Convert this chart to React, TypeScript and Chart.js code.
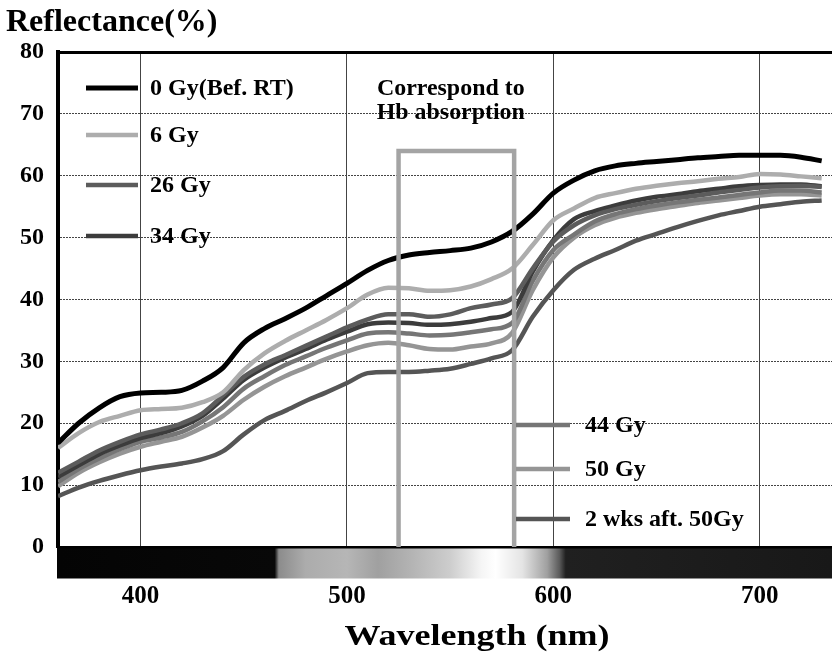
import React, { useEffect, useRef } from "react";
import { Chart, registerables } from "chart.js";

Chart.register(...registerables);

// ---------- data ----------
const wavelengths = [
  360, 370, 380, 390, 400, 410, 420, 430, 440, 450, 460, 470, 480, 490, 500, 510, 520, 530, 540,
  550, 560, 570, 580, 590, 600, 610, 620, 630, 640, 650, 660, 670, 680, 690, 700, 710, 720, 730,
];

const gy0 = [
  16.8, 20.0, 22.5, 24.3, 24.9, 25.0, 25.3, 26.8, 29.0, 33.0, 35.3, 36.9, 38.6, 40.6, 42.6, 44.7, 46.3, 47.2, 47.6,
  47.9, 48.3, 49.3, 51.0, 53.8, 57.2, 59.3, 60.8, 61.6, 62.0, 62.3, 62.6, 62.9, 63.1, 63.3, 63.3, 63.3, 63.0, 62.4,
];
const gy6 = [
  16.0, 18.4, 20.2, 21.2, 22.1, 22.3, 22.5, 23.4, 25.0, 28.6, 31.3, 33.3, 35.0, 36.7, 38.6, 40.8, 41.9, 41.8, 41.4,
  41.5, 42.1, 43.3, 45.0, 48.8, 52.8, 54.7, 56.4, 57.2, 57.9, 58.4, 58.8, 59.1, 59.5, 59.8, 60.3, 60.2, 59.9, 59.6,
];
const gy26 = [
  12.0, 13.8, 15.6, 17.0, 18.2, 19.0, 20.0, 21.6, 24.5, 27.5, 29.5, 31.0, 32.5, 34.0, 35.5, 36.8, 37.6, 37.6, 37.2,
  37.6, 38.6, 39.2, 40.2, 45.0, 49.4, 52.0, 53.6, 54.6, 55.3, 55.9, 56.4, 56.8, 57.3, 57.7, 58.1, 58.3, 58.4, 58.2,
];
const gy34 = [
  11.3, 13.2, 15.0, 16.4, 17.6, 18.4, 19.5, 21.2, 24.0, 27.0, 29.0, 30.6, 32.0, 33.5, 34.8, 36.0, 36.3, 36.2, 35.9,
  36.0, 36.4, 37.0, 38.0, 44.5, 49.6, 53.0, 54.3, 55.2, 56.0, 56.6, 57.0, 57.5, 57.9, 58.3, 58.5, 58.6, 58.6, 58.3,
];
const gy44 = [
  10.5, 12.6, 14.3, 15.8, 17.0, 17.7, 18.6, 20.3, 22.6, 25.6, 27.6, 29.4, 30.8, 32.2, 33.4, 34.5, 34.7, 34.5, 34.2,
  34.3, 34.7, 35.2, 36.2, 43.0, 48.0, 50.5, 52.6, 53.8, 54.6, 55.2, 55.7, 56.1, 56.5, 56.9, 57.3, 57.6, 57.6, 57.3,
];
const gy50 = [
  9.8, 12.0, 13.7, 15.1, 16.2, 17.0, 17.8, 19.3, 21.2, 23.8, 25.9, 27.6, 29.0, 30.4, 31.6, 32.6, 33.0, 32.6, 32.0,
  31.9, 32.4, 32.9, 34.6, 41.5, 46.8, 50.0, 52.0, 53.2, 54.0, 54.6, 55.1, 55.6, 56.0, 56.4, 56.8, 57.0, 57.0, 56.8,
];
const wks2 = [
  8.2, 9.6, 10.7, 11.6, 12.4, 13.0, 13.5, 14.2, 15.5, 18.2, 20.5, 22.0, 23.6, 25.0, 26.5, 28.1, 28.3, 28.3, 28.5,
  28.8, 29.6, 30.5, 31.8, 37.2, 41.5, 44.8, 46.6, 48.0, 49.5, 50.6, 51.7, 52.7, 53.6, 54.3, 55.0, 55.4, 55.8, 56.0,
];

const seriesNames = ["0 Gy(Bef. RT)", "6 Gy", "26 Gy", "34 Gy", "44 Gy", "50 Gy", "2 wks aft. 50Gy"];
const seriesValues = [gy0, gy6, gy26, gy34, gy44, gy50, wks2];

const xTicks = [400, 500, 600, 700];
const yTicks = [0, 10, 20, 30, 40, 50, 60, 70, 80];

const hbBoxX = [525, 525, 581, 581];
const hbBoxY = [0, 64, 64, 0];
const hbLabel = ["Correspond to", "Hb absorption"];

const yTitle = "Reflectance(%)";
const xTitle = "Wavelength (nm)";

// visible-spectrum strip (wavelength, grey level)
const spectrumWl = [360, 465, 467, 480, 500, 515, 530, 550, 565, 572, 585, 597, 603, 606, 735];
const spectrumGrey = [4, 8, 140, 172, 182, 160, 178, 205, 245, 255, 228, 160, 90, 32, 24];

// ---------- styles ----------
const FONT = "'Liberation Serif', 'Times New Roman', serif";
const colors = ["#000000", "#adadad", "#5c5c5c", "#3c3c3c", "#767676", "#959595", "#555555"];
const widths = [5, 4.5, 4.5, 4.5, 4.5, 4.5, 4.5];

function stretchText(ctx: CanvasRenderingContext2D, text: string, x: number, y: number, sx: number) {
  ctx.save();
  ctx.translate(x, y);
  ctx.scale(sx, 1);
  ctx.fillText(text, 0, 0);
  ctx.restore();
}

export default function App() {
  const ref = useRef<HTMLCanvasElement>(null);

  useEffect(() => {
    const canvas = ref.current;
    if (!canvas) return;

    const decor = {
      id: "decor",
      afterDraw(chart: any) {
        const { ctx, chartArea } = chart;
        const x = chart.scales.x;
        const y = chart.scales.y;
        ctx.save();

        // spectrum strip
        const L = chartArea.left;
        const R = chartArea.right;
        const g = ctx.createLinearGradient(L, 0, R, 0);
        spectrumWl.forEach((w, i) => {
          const p = Math.min(1, Math.max(0, (x.getPixelForValue(w) - L) / (R - L)));
          const v = spectrumGrey[i];
          g.addColorStop(p, `rgb(${v},${v},${v})`);
        });
        ctx.fillStyle = g;
        ctx.fillRect(L - 1, chartArea.bottom + 1.5, R - L + 1, 30);

        ctx.fillStyle = "#000";
        ctx.textBaseline = "middle";

        // y title
        ctx.font = `bold 32px ${FONT}`;
        ctx.textAlign = "left";
        stretchText(ctx, yTitle, 6, 23, 1.0);

        // x title
        ctx.font = `bold 30px ${FONT}`;
        ctx.textAlign = "center";
        stretchText(ctx, xTitle, 477, 637, 1.2);

        // Hb label
        ctx.font = `bold 23px ${FONT}`;
        ctx.textAlign = "center";
        const cx = x.getPixelForValue(550.3);
        stretchText(ctx, hbLabel[0], cx, y.getPixelForValue(74.0), 1.04);
        stretchText(ctx, hbLabel[1], cx, y.getPixelForValue(70.1), 1.04);

        // legend
        const legendPos = [
          { y: 88, x0: 86, x1: 138, tx: 150 },
          { y: 135, x0: 86, x1: 138, tx: 150 },
          { y: 185, x0: 86, x1: 138, tx: 150 },
          { y: 236, x0: 86, x1: 138, tx: 150 },
          { y: 425, x0: 516, x1: 570, tx: 585 },
          { y: 469, x0: 516, x1: 570, tx: 585 },
          { y: 519, x0: 516, x1: 570, tx: 585 },
        ];
        ctx.font = `bold 24px ${FONT}`;
        ctx.textAlign = "left";
        legendPos.forEach((p, i) => {
          ctx.strokeStyle = colors[i];
          ctx.lineWidth = i === 0 ? 5 : 4.5;
          ctx.beginPath();
          ctx.moveTo(p.x0, p.y);
          ctx.lineTo(p.x1, p.y);
          ctx.stroke();
          ctx.fillStyle = "#000";
          stretchText(ctx, seriesNames[i], p.tx, p.y + 1, 1.0);
        });
        ctx.restore();
      },
    };

    const datasets: any[] = [
      {
        label: "Hb box",
        data: hbBoxX.map((v, i) => ({ x: v, y: hbBoxY[i] })),
        borderColor: "#a4a4a4",
        borderWidth: 4.5,
        pointRadius: 0,
        tension: 0,
        fill: false,
        order: 0,
        clip: false,
      },
      ...seriesValues.map((vals, i) => ({
        label: seriesNames[i],
        data: wavelengths.map((w, j) => ({ x: w, y: vals[j] })),
        borderColor: colors[i],
        borderWidth: widths[i],
        pointRadius: 0,
        cubicInterpolationMode: "monotone",
        fill: false,
        order: i === 0 ? 1 : i + 2,
      })),
    ];

    const chart = new Chart(canvas, {
      type: "line",
      data: { datasets },
      options: {
        responsive: false,
        animation: false,
        layout: { padding: { top: 52, left: 0, right: 0, bottom: 0 } },
        plugins: { legend: { display: false }, tooltip: { enabled: false } },
        scales: {
          x: {
            type: "linear",
            min: 360,
            max: 735,
            afterBuildTicks: (s: any) => {
              s.ticks = xTicks.map((v) => ({ value: v }));
            },
            afterFit: (s: any) => {
              s.height = 108;
            },
            grid: { color: "#444", lineWidth: 1, drawTicks: false },
            border: { display: true, color: "#000", width: 3 },
            ticks: {
              color: "#000",
              font: { family: FONT, size: 25, weight: "bold" },
              padding: 35,
              maxRotation: 0,
            },
            title: { display: false },
          },
          y: {
            type: "linear",
            min: 0,
            max: 80,
            afterBuildTicks: (s: any) => {
              s.ticks = yTicks.map((v) => ({ value: v }));
            },
            afterFit: (s: any) => {
              s.width = 58;
            },
            grid: {
              color: (c: any) => (c.tick && c.tick.value === 80 ? "#000" : "#444"),
              lineWidth: (c: any) => (c.tick && c.tick.value === 80 ? 3 : 1),
              drawTicks: false,
            },
            border: {
              display: true,
              color: "#000",
              width: 4,
              dash: (c: any) => (c.tick && c.tick.value !== 80 && c.tick.value !== 0 ? [2, 1] : []),
            },
            ticks: {
              color: "#000",
              font: { family: FONT, size: 24, weight: "bold" },
              padding: 14,
            },
          },
        },
      },
      plugins: [decor],
    } as any);

    return () => chart.destroy();
  }, []);

  return (
    <div style={{ position: "absolute", left: 0, top: 0, width: 832, height: 655 }}>
      <canvas ref={ref} width={832} height={655} style={{ display: "block" }} />
    </div>
  );
}
